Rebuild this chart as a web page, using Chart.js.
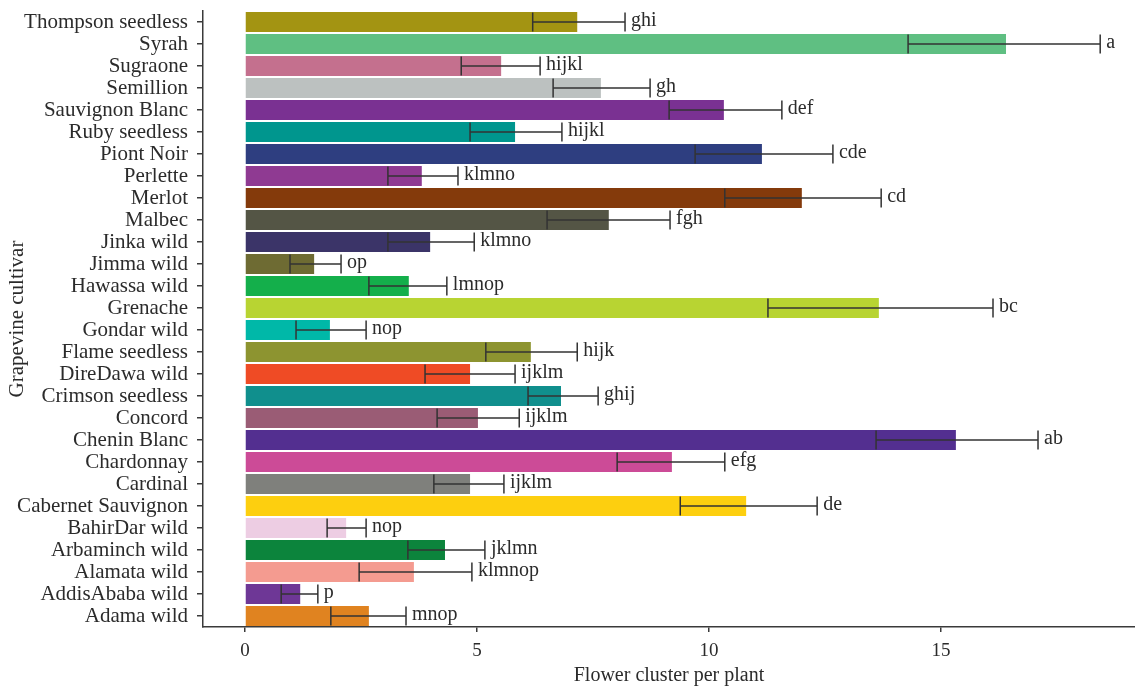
<!DOCTYPE html>
<html>
<head>
<meta charset="utf-8">
<script src="https://cdn.jsdelivr.net/npm/chart.js@4/dist/chart.umd.min.js"></script>
<style>
  html, body { margin: 0; padding: 0; background: #ffffff; }
  #wrap { width: 1135px; height: 686px; }
</style>
</head>
<body>
<div id="wrap"><canvas id="c" width="1135" height="686"></canvas></div>
<script>
// Grapevine cultivars, top to bottom
const cultivars = [
  'Thompson seedless', 'Syrah', 'Sugraone', 'Semillion', 'Sauvignon Blanc',
  'Ruby seedless', 'Piont Noir', 'Perlette', 'Merlot', 'Malbec',
  'Jinka wild', 'Jimma wild', 'Hawassa wild', 'Grenache', 'Gondar wild',
  'Flame seedless', 'DireDawa wild', 'Crimson seedless', 'Concord', 'Chenin Blanc',
  'Chardonnay', 'Cardinal', 'Cabernet Sauvignon', 'BahirDar wild', 'Arbaminch wild',
  'Alamata wild', 'AddisAbaba wild', 'Adama wild'
];

// Mean flower clusters per plant
const clusterMeans = [
  7.16, 16.40, 5.52, 7.67, 10.32,
  5.82, 11.14, 3.81, 12.00, 7.84,
  3.99, 1.49, 3.53, 13.66, 1.83,
  6.16, 4.85, 6.81, 5.02, 15.32,
  9.20, 4.85, 10.80, 2.18, 4.31,
  3.64, 1.19, 2.67
];

// Lower and upper ends of the error bars
const errLower = [
  6.20, 14.29, 4.66, 6.64, 9.14,
  4.85, 9.70, 3.08, 10.34, 6.51,
  3.08, 0.97, 2.67, 11.27, 1.10,
  5.19, 3.88, 6.10, 4.14, 13.60,
  8.02, 4.07, 9.38, 1.77, 3.51,
  2.46, 0.78, 1.85
];
const errUpper = [
  8.19, 18.43, 6.36, 8.73, 11.57,
  6.83, 12.67, 4.59, 13.71, 9.16,
  4.94, 2.07, 4.35, 16.12, 2.61,
  7.16, 5.82, 7.61, 5.91, 17.09,
  10.34, 5.58, 12.33, 2.61, 5.17,
  4.89, 1.57, 3.47
];

// Mean separation letters
const groupLetters = [
  'ghi', 'a', 'hijkl', 'gh', 'def',
  'hijkl', 'cde', 'klmno', 'cd', 'fgh',
  'klmno', 'op', 'lmnop', 'bc', 'nop',
  'hijk', 'ijklm', 'ghij', 'ijklm', 'ab',
  'efg', 'ijklm', 'de', 'nop', 'jklmn',
  'klmnop', 'p', 'mnop'
];

// One fill per cultivar
const barColors = [
  '#a39412', '#5fbf82', '#c4708e', '#bcc1c0', '#7a3192',
  '#00968e', '#2e3e80', '#8f3a92', '#843a0b', '#545545',
  '#3b3468', '#6e6b33', '#14af4b', '#b8d432', '#00b8a8',
  '#8d9430', '#ef4b25', '#108f8d', '#9a5c75', '#532f90',
  '#cc4b97', '#7f807c', '#fdcf0f', '#edcde3', '#0c843c',
  '#f49b90', '#6e3796', '#e08320'
];

const xTickValues = [0, 5, 10, 15];

const serif = "'Liberation Serif', 'Times New Roman', serif";
const inkColor = '#2b2b2b';
const axisColor = '#3a3a3a';

// Error bars with caps, plus the group letters after the upper cap
const errorBarPlugin = {
  id: 'errorBars',
  afterDatasetsDraw(chart) {
    const ctx = chart.ctx;
    const xs = chart.scales.x;
    const ys = chart.scales.y;
    const capHalf = 9.5;
    ctx.save();
    ctx.strokeStyle = '#333333';
    ctx.lineWidth = 1.5;
    ctx.font = '20px ' + serif;
    ctx.fillStyle = inkColor;
    ctx.textAlign = 'left';
    ctx.textBaseline = 'middle';
    for (let i = 0; i < cultivars.length; i++) {
      const y = ys.getPixelForValue(i);
      const xl = xs.getPixelForValue(errLower[i]);
      const xh = xs.getPixelForValue(errUpper[i]);
      ctx.beginPath();
      ctx.moveTo(xl, y);
      ctx.lineTo(xh, y);
      ctx.moveTo(xl, y - capHalf);
      ctx.lineTo(xl, y + capHalf);
      ctx.moveTo(xh, y - capHalf);
      ctx.lineTo(xh, y + capHalf);
      ctx.stroke();
      ctx.fillText(groupLetters[i], xh + 6, y - 1);
    }
    ctx.restore();
  }
};

new Chart(document.getElementById('c'), {
  type: 'bar',
  data: {
    labels: cultivars,
    datasets: [{
      data: clusterMeans,
      backgroundColor: barColors,
      borderWidth: 0,
      barPercentage: 0.9,
      categoryPercentage: 1.0
    }]
  },
  options: {
    indexAxis: 'y',
    responsive: false,
    animation: false,
    layout: { padding: { left: 5, top: 11, right: 0, bottom: 0 } },
    plugins: {
      legend: { display: false },
      tooltip: { enabled: false }
    },
    scales: {
      x: {
        type: 'linear',
        min: -0.905,
        max: 19.18,
        afterBuildTicks(scale) {
          scale.ticks = xTickValues.map(v => ({ value: v }));
        },
        afterFit(scale) {
          scale.height = 59;
          scale.paddingLeft = 0;
          scale.paddingRight = 0;
        },
        grid: {
          drawOnChartArea: false,
          drawTicks: true,
          tickLength: 5,
          color: axisColor,
          lineWidth: 1.5
        },
        border: { display: true, color: axisColor, width: 1.5 },
        ticks: {
          padding: 8,
          color: inkColor,
          font: { family: serif, size: 19 },
          callback: v => String(v)
        },
        title: {
          display: true,
          text: 'Flower cluster per plant',
          color: inkColor,
          font: { family: serif, size: 20, lineHeight: 1.0 },
          padding: { top: 0, bottom: 0 }
        }
      },
      y: {
        type: 'category',
        afterFit(scale) {
          scale.width = 198;
          scale.paddingTop = 0;
          scale.paddingBottom = 0;
        },
        grid: {
          offset: false,
          drawOnChartArea: false,
          drawTicks: true,
          tickLength: 6,
          color: axisColor,
          lineWidth: 1.5
        },
        border: { display: true, color: axisColor, width: 1.5 },
        ticks: {
          padding: 9,
          autoSkip: false,
          color: inkColor,
          font: { family: serif, size: 21 }
        },
        title: {
          display: true,
          text: 'Grapevine cultivar',
          color: inkColor,
          font: { family: serif, size: 21, lineHeight: 1.2 },
          padding: { top: 0, bottom: 0 }
        }
      }
    }
  },
  plugins: [errorBarPlugin]
});
</script>
</body>
</html>
